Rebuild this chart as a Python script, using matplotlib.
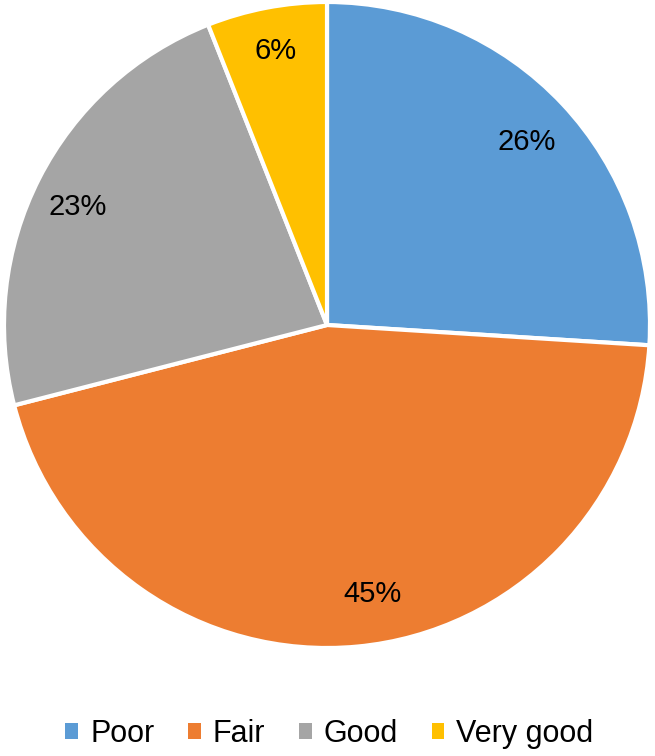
import matplotlib
matplotlib.use("Agg")
import matplotlib.pyplot as plt
from matplotlib.patches import Patch

categories = ["Poor", "Fair", "Good", "Very good"]
values = [26, 45, 23, 6]
colors = ["#5B9BD5", "#ED7D31", "#A5A5A5", "#FFC000"]

plt.rcParams['font.family'] = ['Liberation Sans', 'DejaVu Sans']

fig = plt.figure(figsize=(6.55, 7.56), dpi=100)
ax = fig.add_axes([0, 0, 1, 1])

wedges, texts, autotexts = ax.pie(
    values, colors=colors, startangle=90, counterclock=False,
    center=(327, 431), radius=323, autopct='%d%%', pctdistance=0.85,
    wedgeprops=dict(edgecolor='white', linewidth=3),
    textprops=dict(fontsize=21, color='black'), frame=True)
ax.set_xlim(0, 655)
ax.set_ylim(0, 756)
ax.set_aspect('equal')
ax.axis('off')

# Adjust label positions (Excel best-fit placement)
autotexts[0].set_position((527, 756 - 142))
autotexts[1].set_position((372, 756 - 594))
autotexts[2].set_position((78, 756 - 207))
autotexts[3].set_position((276, 756 - 51))

handles = [Patch(facecolor=c, edgecolor='none') for c in colors]
fig.legend(handles, categories, loc='center', bbox_to_anchor=(0.503, 0.029),
           ncol=4, frameon=False, fontsize=22, handlelength=0.42,
           handleheight=0.42, handletextpad=0.39, columnspacing=1.1,
           borderpad=0, borderaxespad=0)

fig.savefig("out.png", dpi=100)
